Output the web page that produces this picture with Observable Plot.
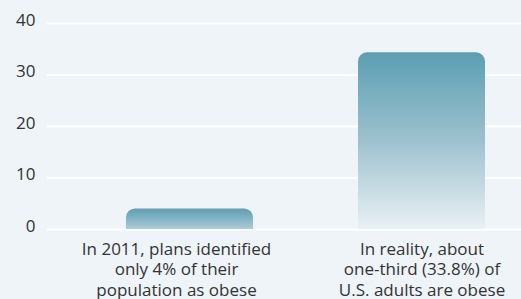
<!DOCTYPE html>
<html>
<head>
<meta charset="utf-8">
<script src="https://cdn.jsdelivr.net/npm/d3@7"></script>
<script src="https://cdn.jsdelivr.net/npm/@observablehq/plot@0.6"></script>
<style>
  html, body { margin: 0; padding: 0; background: #eef4f7; }
  #chart { width: 521px; height: 299px; overflow: hidden; }
</style>
</head>
<body>
<div id="chart"></div>
<script>
const categories = ["plans", "reality"];
const values = [4, 34.3];
const labels = [
  "In 2011, plans identified\nonly 4% of their\npopulation as obese",
  "In reality, about\none-third (33.8%) of\nU.S. adults are obese"
];
const yTicks = [0, 10, 20, 30, 40];

const data = categories.map((c, i) => ({category: c, value: values[i], label: labels[i]}));

function gradientDefs() {
  const ns = "http://www.w3.org/2000/svg";
  const defs = document.createElementNS(ns, "defs");
  const g = document.createElementNS(ns, "linearGradient");
  g.setAttribute("id", "barGrad");
  g.setAttribute("x1", "0"); g.setAttribute("y1", "0");
  g.setAttribute("x2", "0"); g.setAttribute("y2", "1");
  [["0", "#5b9fb3"], ["0.45", "#9cc0ce"], ["1", "#f6f9fb"]].forEach(([o, c]) => {
    const s = document.createElementNS(ns, "stop");
    s.setAttribute("offset", o);
    s.setAttribute("stop-color", c);
    g.appendChild(s);
  });
  defs.appendChild(g);
  return defs;
}

const chart = Plot.plot({
  width: 521,
  height: 299,
  marginLeft: 47,
  marginRight: 0,
  marginTop: 23,
  marginBottom: 70,
  style: {background: "#eef4f7", fontFamily: "'Open Sans', sans-serif", color: "#333"},
  x: {type: "band", domain: categories, range: [126, 485], paddingInner: 0.4526, paddingOuter: 0, axis: null},
  y: {domain: [0, 40], axis: null},
  marks: [
    gradientDefs,
    Plot.gridY(yTicks, {stroke: "#ffffff", strokeOpacity: 1, strokeWidth: 2.2}),
    Plot.rectY(data, {x: "category", y1: -3, y2: "value", fill: "url(#barGrad)", rx: 9, clip: true}),
    Plot.axisY(yTicks, {label: null, tickSize: 0, tickPadding: 12, fontSize: 17, fill: "#333", dy: -3}),
    Plot.text(data.filter(d => d.category === "plans"), {x: "category", text: "label", frameAnchor: "bottom", lineAnchor: "top", dy: 10.5, dx: -13.5, fontSize: 17, lineHeight: 1.22, fill: "#333"}),
    Plot.text(data.filter(d => d.category === "reality"), {x: "category", text: "label", frameAnchor: "bottom", lineAnchor: "top", dy: 10.5, fontSize: 17, lineHeight: 1.22, fill: "#333"})
  ]
});
document.getElementById("chart").appendChild(chart);
</script>
</body>
</html>
